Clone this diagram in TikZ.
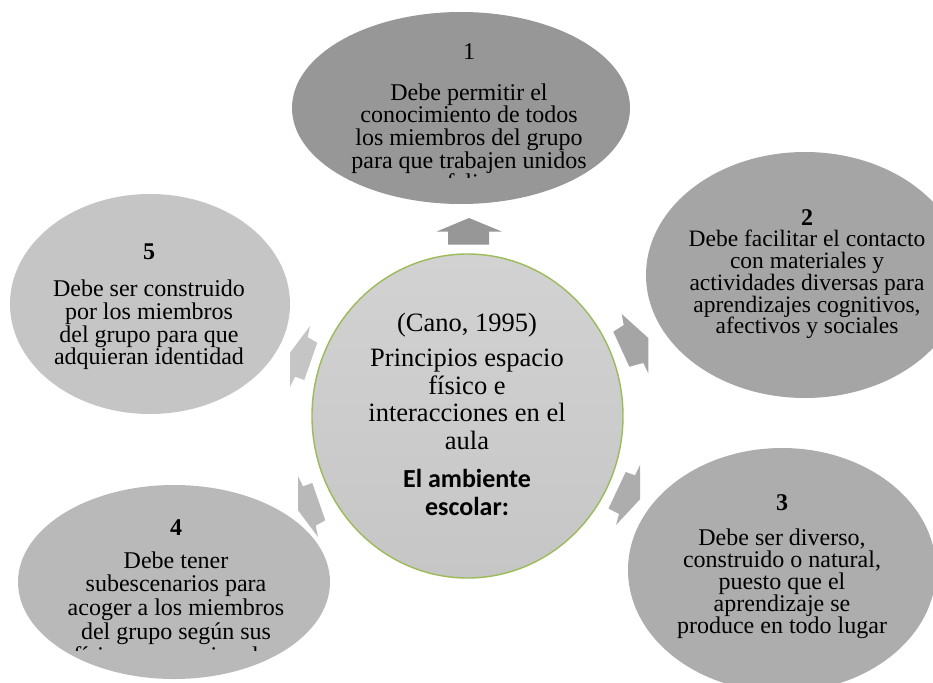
\documentclass[tikz,border=0pt]{standalone}
\usepackage{fontspec}
\setmainfont{Liberation Serif}
\newfontfamily\calfont{Carlito}
\usetikzlibrary{shapes.geometric}
\definecolor{cA}{HTML}{979797}
\definecolor{cB}{HTML}{A5A5A5}
\definecolor{cC}{HTML}{ADADAD}
\definecolor{cD}{HTML}{B9B9B9}
\definecolor{cE}{HTML}{C5C5C5}
\definecolor{cTop}{HTML}{D2D2D2}
\definecolor{cBot}{HTML}{C6C6C6}
\definecolor{cGreen}{HTML}{9BBB59}
\tikzset{
  blob/.style={ellipse, inner sep=0pt, draw=none},
  ln/.style={anchor=base, inner sep=0pt, font=\fontsize{24}{24}\selectfont},
  lnsm/.style={anchor=base, inner sep=0pt, font=\fontsize{23.5}{23.5}\selectfont},
  lnb/.style={ln, font=\fontsize{24}{24}\selectfont\bfseries},
  lnc/.style={anchor=base, inner sep=0pt, font=\fontsize{26.5}{26.5}\selectfont},
  lncb/.style={anchor=base, inner sep=0pt, font=\fontsize{26}{26}\calfont\bfseries},
}
\newcommand\txtlines[5]{%
  \foreach \l [count=\i from 0] in {#5}
    \node[#1] (#2-\i) at (#3, #4+\i*22.7) {\l};}
\begin{document}
\begin{tikzpicture}[x=1pt,y=-1pt]
\useasboundingbox (0,0) rectangle (933,682);
\clip (0,0) rectangle (933,682);

% ellipses
\node[blob, fill=cA, minimum width=338pt, minimum height=192pt] (n1) at (461,108) {};
\node[blob, fill=cB, minimum width=318pt, minimum height=246pt] (n2) at (805,275) {};
\node[blob, fill=cC, minimum width=308pt, minimum height=244pt] (n3) at (782,570) {};
\node[blob, fill=cD, minimum width=312pt, minimum height=194pt] (n4) at (174,582) {};
\node[blob, fill=cE, minimum width=280pt, minimum height=220pt] (n5) at (150,304) {};
\node[ellipse, inner sep=0pt, top color=cTop, bottom color=cBot, draw=cGreen, line width=1.4pt,
      minimum width=311pt, minimum height=324pt] (c) at (467.5,416) {};

% arrows
\fill[cA] (469,218) -- (501.7,231.5) -- (489,231.5) -- (489,244.5) -- (448,244.5) -- (448,231.5) -- (436.7,231.5) -- cycle;
\fill[cB] (621.7,314) -- (623.7,325) -- (613.3,331.7) -- (629.3,366.7) -- (643.3,363) -- (648.3,373.3) -- (648.3,338) -- cycle;
\fill[cC] (616,525) -- (619,514) -- (608.5,508.5) -- (625.7,472) -- (635,475.3) -- (640,465) -- (640,499.3) -- cycle;
\fill[cD] (318,537) -- (315.7,525.7) -- (325.3,520.3) -- (312.3,483) -- (303,486.3) -- (298,476) -- (298,510.3) -- cycle;
\fill[cE] (310,326) -- (307.7,337.3) -- (317.3,342.7) -- (304.3,380) -- (295,376.7) -- (290,387) -- (290,352.7) -- cycle;

% node 1 text
\node[ln] (h1) at (469,60) {1};
\begin{scope}
\clip (280,0) rectangle (650,177);
\txtlines{ln}{t1}{469}{100}{Debe permitir el, conocimiento de todos, los miembros del grupo, para que trabajen unidos, y felices}
\end{scope}

% node 2 text
\node[lnb] (h2) at (807,225) {2};
\foreach \l [count=\i from 0] in {Debe facilitar el contacto, con materiales y, actividades diversas para, {aprendizajes cognitivos,}, afectivos y sociales}
  \node[lnsm] (t2-\i) at (807, 246.7+\i*21.8) {\l};

% node 3 text
\node[lnb] (h3) at (782,510) {3};
\foreach \l [count=\i from 0] in {{Debe ser diverso,}, {construido o natural,}, puesto que el, aprendizaje se, produce en todo lugar}
  \node[ln] (t3-\i) at (782, 545+\i*22) {\l};

% node 4 text
\node[lnb] (h4) at (176,535) {4};
\begin{scope}
\clip (0,500) rectangle (340,650);
\foreach \l [count=\i from 0] in {Debe tener, subescenarios para, acoger a los miembros, del grupo según sus, físicas y emocionales}
  \node[ln] (t4-\i) at (176, 568+\i*23.8) {\l};
\end{scope}

% node 5 text
\node[lnb] (h5) at (149,259.3) {5};
\txtlines{ln}{t5}{149}{296.7}{Debe ser construido, por los miembros, del grupo para que, adquieran identidad}

% centre text
\node[lnc] (cc) at (467,331.7) {(Cano, 1995)};
\foreach \l [count=\i from 0] in {Principios espacio, físico e, interacciones en el, aula}
  \node[lnc] (cl-\i) at (467, 366.7+\i*27.5) {\l};
\node[lncb] (cb-0) at (467,487) {El ambiente};
\node[lncb] (cb-1) at (467,515) {escolar:};
\end{tikzpicture}
\end{document}
